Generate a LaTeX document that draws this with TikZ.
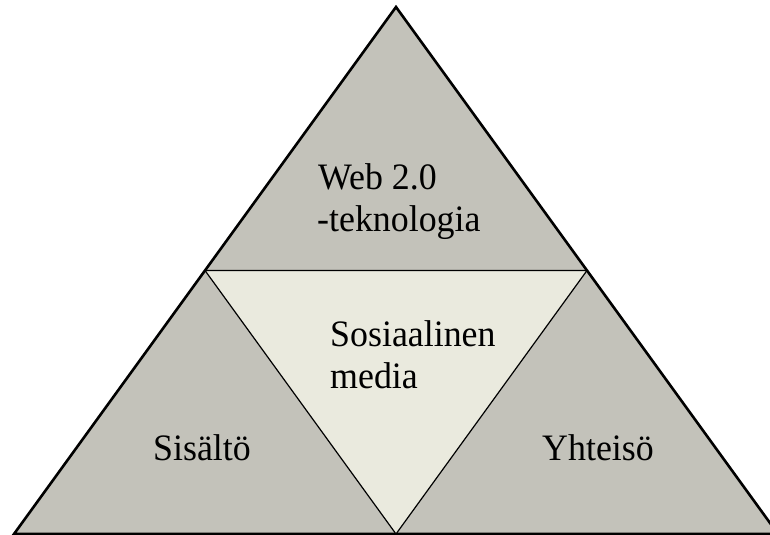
\documentclass[tikz,border=0pt]{standalone}
\usepackage{fontspec}
\setmainfont{Liberation Serif}
\usetikzlibrary{calc}
\definecolor{kolmiogray}{RGB}{195,194,186}
\definecolor{keskilight}{RGB}{234,234,222}

\begin{document}
\begin{tikzpicture}[x=1bp,y=-1bp,
  teksti/.style={font=\fontsize{36}{42}\selectfont, anchor=base west, inner sep=0pt, align=left, yscale=1.04}]
  % -=-=-=-=- FRAME -=-=-=-=-
  \useasboundingbox (0,0) rectangle (770,535);
  \clip (0,0) rectangle (770,535);
  % -=-=-=-=- CORNERS -=-=-=-=-
  \coordinate (A) at (396,7);
  \coordinate (B) at (14,534);
  \coordinate (C) at (778,534);
  \coordinate (D) at ($(A)!0.5!(B)$);
  \coordinate (E) at ($(A)!0.5!(C)$);
  \coordinate (F) at ($(B)!0.5!(C)$);
  % -=-=-=-=- TRIANGLES -=-=-=-=-
  \draw[fill=kolmiogray,line width=2.6bp,line join=miter] (A) -- (B) -- (C) -- cycle;
  \draw[fill=keskilight,line width=1.2bp] (D) -- (E) -- (F) -- cycle;
  % -=-=-=-=- LABELS -=-=-=-=-
  \node[teksti] (web) at (318,190) {Web 2.0};
  \node[teksti] (tekno) at (317,232) {-teknologia};
  \node[teksti] (sosiaali) at (330,346) {Sosiaalinen};
  \node[teksti] (media) at (330,388) {media};
  \node[teksti] (sisalto) at (153,460) {Sisältö};
  \node[teksti] (yhteiso) at (542,460) {Yhteisö};
\end{tikzpicture}
\end{document}
